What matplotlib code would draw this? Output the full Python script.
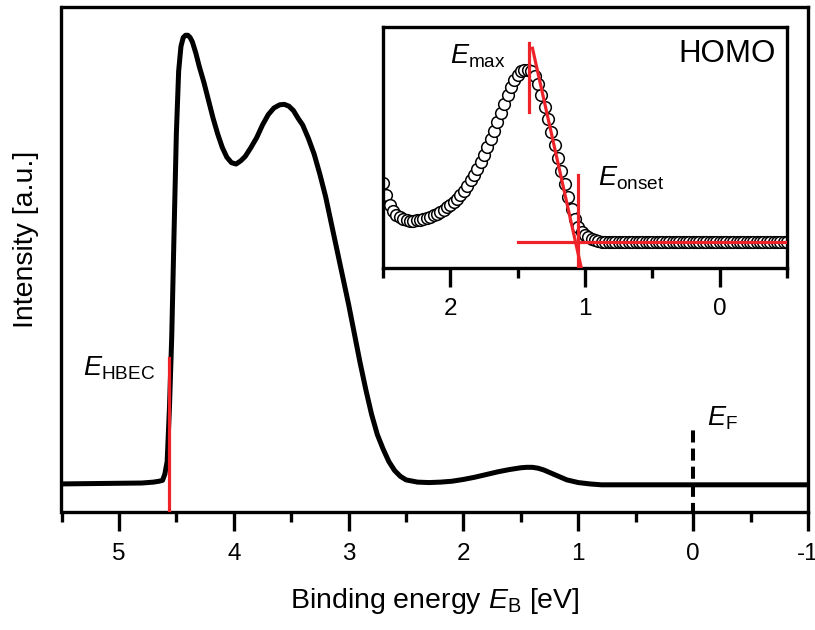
import numpy as np
import matplotlib
matplotlib.use("Agg")
import matplotlib.pyplot as plt
from matplotlib.ticker import MultipleLocator, NullLocator

plt.rcParams['font.family'] = ['Liberation Sans', 'DejaVu Sans']
plt.rcParams['mathtext.fontset'] = 'custom'
plt.rcParams['mathtext.rm'] = 'Liberation Sans'
plt.rcParams['mathtext.it'] = 'Liberation Sans:italic'
plt.rcParams['axes.unicode_minus'] = False

# main UPS spectrum (binding energy in eV, normalised intensity)
main_be = [5.50, 4.80, 4.70, 4.65, 4.62, 4.60, 4.58, 4.56, 4.54, 4.52,
           4.50, 4.48, 4.46, 4.44, 4.42, 4.40, 4.38, 4.36, 4.33, 4.30,
           4.26, 4.22, 4.18, 4.14, 4.10, 4.06, 4.02, 3.98, 3.94, 3.90,
           3.85, 3.80, 3.75, 3.70, 3.65, 3.60, 3.56, 3.52, 3.48, 3.44,
           3.40, 3.35, 3.30, 3.25, 3.20, 3.15, 3.10, 3.05, 3.00, 2.95,
           2.90, 2.85, 2.80, 2.75, 2.70, 2.65, 2.60, 2.55, 2.50, 2.40,
           2.30, 2.20, 2.10, 2.00, 1.90, 1.80, 1.70, 1.60, 1.50, 1.45,
           1.40, 1.35, 1.30, 1.20, 1.10, 1.00, 0.90, 0.80, 0.50, 0.00,
           -0.50, -1.00]
main_int = [0.000, 0.002, 0.004, 0.006, 0.008, 0.022, 0.050, 0.170, 0.330, 0.560,
            0.780, 0.920, 0.975, 0.995, 1.000, 1.000, 0.995, 0.985, 0.960, 0.930,
            0.895, 0.855, 0.815, 0.780, 0.750, 0.728, 0.716, 0.713, 0.720, 0.730,
            0.750, 0.772, 0.800, 0.823, 0.838, 0.845, 0.846, 0.842, 0.832, 0.815,
            0.800, 0.770, 0.735, 0.690, 0.640, 0.580, 0.520, 0.460, 0.400, 0.335,
            0.270, 0.210, 0.155, 0.110, 0.078, 0.050, 0.030, 0.017, 0.009, 0.004,
            0.003, 0.004, 0.006, 0.010, 0.015, 0.021, 0.027, 0.032, 0.036, 0.037,
            0.037, 0.035, 0.031, 0.020, 0.009, 0.003, 0.000, -0.002, -0.002, -0.002,
            -0.002, -0.002]

# HOMO region (inset), measured every 25 meV
inset_be = np.linspace(2.5, -0.5, 121)
inset_int = [0.353, 0.304, 0.262, 0.237, 0.221, 0.211, 0.204, 0.200, 0.198, 0.198,
             0.200, 0.202, 0.204, 0.208, 0.213, 0.219, 0.225, 0.233, 0.242, 0.252,
             0.262, 0.275, 0.289, 0.304, 0.320, 0.341, 0.364, 0.387, 0.412, 0.441,
             0.470, 0.503, 0.536, 0.569, 0.606, 0.644, 0.681, 0.718, 0.751, 0.780,
             0.801, 0.816, 0.822, 0.822, 0.816, 0.797, 0.764, 0.718, 0.668, 0.619,
             0.565, 0.511, 0.457, 0.403, 0.349, 0.295, 0.246, 0.204, 0.171, 0.150,
             0.136, 0.128, 0.121, 0.117, 0.113, 0.111, 0.110, 0.109, 0.109, 0.109,
             0.109, 0.109, 0.109, 0.109, 0.109, 0.109, 0.109, 0.109, 0.109, 0.109,
             0.109, 0.109, 0.109, 0.109, 0.109, 0.109, 0.109, 0.109, 0.109, 0.109,
             0.109, 0.109, 0.109, 0.109, 0.109, 0.109, 0.109, 0.109, 0.109, 0.109,
             0.109, 0.109, 0.109, 0.109, 0.109, 0.109, 0.109, 0.109, 0.109, 0.109,
             0.109, 0.109, 0.109, 0.109, 0.109, 0.109, 0.109, 0.109, 0.109, 0.109,
             0.109]

e_hbec = 4.56
e_fermi = 0.0
e_max = 1.416
e_onset = 1.052
baseline = 0.110
tangent_be = [1.39, 1.027]
tangent_int = [0.912, 0.0]

red = '#ee2229'
lw_ax = 2.4

fig = plt.figure(figsize=(8.15, 6.3), dpi=100)
ax = fig.add_axes([61.5 / 815, 1 - 512 / 630, (808 - 61.5) / 815, (512 - 7) / 630])

ax.plot(main_be, main_int, color='black', lw=3.6, solid_joinstyle='round', zorder=3)
ax.plot([e_hbec, e_hbec], [-0.07, 0.28], color=red, lw=2.3, zorder=4)
ax.plot([e_fermi, e_fermi], [-0.07, 0.12], color='black', lw=2.9,
        dashes=(3.0, 1.5), zorder=4)

ax.set_xlim(5.5, -1.0)
ax.set_ylim(-0.0626, 1.063)
ax.xaxis.set_major_locator(MultipleLocator(1))
ax.xaxis.set_minor_locator(MultipleLocator(0.5))
ax.yaxis.set_major_locator(NullLocator())
ax.tick_params(axis='x', which='major', direction='out', length=13.7, width=lw_ax,
               labelsize=17.5, pad=8.5)
ax.tick_params(axis='x', which='minor', direction='out', length=7.2, width=lw_ax)
for s in ax.spines.values():
    s.set_linewidth(lw_ax)

ax.set_xlabel(r'Binding energy $E_\mathrm{B}$ [eV]', fontsize=20.5, labelpad=15)
ax.set_ylabel('Intensity [a.u.]', fontsize=20.5)
ax.yaxis.set_label_coords(-0.030, 0.54)

ax.text(5.31, 0.242, r'$E_\mathrm{HBEC}$', fontsize=19.5, va='baseline', ha='left')
ax.text(-0.122, 0.13, r'$E_\mathrm{F}$', fontsize=19.5, va='baseline', ha='left')

# inset with HOMO onset
ins = fig.add_axes([383 / 815, 1 - 268.3 / 630, (787 - 383) / 815, (268.3 - 27) / 630])
ins.plot(inset_be, inset_int, 'o', ms=8.4, mfc='white', mec='black', mew=1.1, zorder=2)
ins.plot([e_max, e_max], [0.649, 0.935], color=red, lw=2.3, zorder=3)
ins.plot(tangent_be, tangent_int, color=red, lw=2.3, zorder=3)
ins.plot([e_onset, e_onset], [0.0, 0.387], color=red, lw=2.3, zorder=3)
ins.plot([1.50, -0.5], [baseline, baseline], color=red, lw=2.3, zorder=3)

ins.set_xlim(2.5, -0.5)
ins.set_ylim(0, 1)
ins.xaxis.set_major_locator(MultipleLocator(1))
ins.xaxis.set_minor_locator(MultipleLocator(0.5))
ins.yaxis.set_major_locator(NullLocator())
ins.tick_params(axis='x', which='major', direction='out', length=14, width=lw_ax,
                labelsize=17.5, pad=7.5)
ins.tick_params(axis='x', which='minor', direction='out', length=7.2, width=lw_ax)
for s in ins.spines.values():
    s.set_linewidth(lw_ax)

ins.text(2.005, 0.85, r'$E_\mathrm{max}$', fontsize=19.5, va='baseline', ha='left')
ins.text(0.904, 0.342, r'$E_\mathrm{onset}$', fontsize=19.5, va='baseline', ha='left')
ins.text(-0.42, 0.856, 'HOMO', fontsize=22.5, va='baseline', ha='right')

fig.savefig('out.png', dpi=100)
